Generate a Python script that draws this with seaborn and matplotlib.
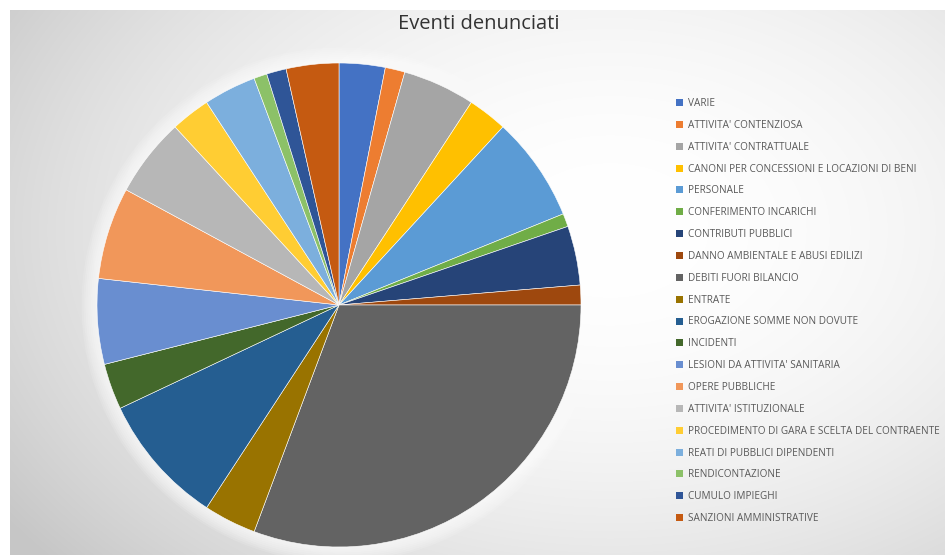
import numpy as np
import matplotlib
matplotlib.use("Agg")
import matplotlib.pyplot as plt
import seaborn as sns
from matplotlib.patches import Patch, Circle

# dati (numero di eventi per categoria)
categorie = [
    "VARIE",
    "ATTIVITA' CONTENZIOSA",
    "ATTIVITA' CONTRATTUALE",
    "CANONI PER CONCESSIONI E LOCAZIONI DI BENI",
    "PERSONALE",
    "CONFERIMENTO INCARICHI",
    "CONTRIBUTI PUBBLICI",
    "DANNO AMBIENTALE E ABUSI EDILIZI",
    "DEBITI FUORI BILANCIO",
    "ENTRATE",
    "EROGAZIONE SOMME NON DOVUTE",
    "INCIDENTI",
    "LESIONI DA ATTIVITA' SANITARIA",
    "OPERE PUBBLICHE",
    "ATTIVITA' ISTITUZIONALE",
    "PROCEDIMENTO DI GARA E SCELTA DEL CONTRAENTE",
    "REATI DI PUBBLICI DIPENDENTI",
    "RENDICONTAZIONE",
    "CUMULO IMPIEGHI",
    "SANZIONI AMMINISTRATIVE",
]
eventi = [7, 3, 11, 6, 16, 2, 9, 3, 70, 8, 20, 7, 13, 14, 12, 6, 8, 2, 3, 8]

colori = [
    "#4472C4", "#ED7D31", "#A5A5A5", "#FFC000", "#5B9BD5", "#70AD47",
    "#264478", "#9E480E", "#636363", "#997300", "#255E91", "#43682B",
    "#698ED0", "#F1975A", "#B7B7B7", "#FFCD33", "#7CAFDD", "#8CC168",
    "#2F5597", "#C55A11",
]

sns.set_theme(style="white")
palette = sns.color_palette(colori)
plt.rcParams['font.family'] = ['Open Sans', 'DejaVu Sans']

W, H = 948, 555
fig = plt.figure(figsize=(W / 100, H / 100), dpi=100)
fig.patch.set_facecolor("white")

# sfondo con gradiente radiale grigio
bg = fig.add_axes([10 / W, 0, 935 / W, 545 / H])
bg.set_axis_off()
yy, xx = np.mgrid[0:545, 0:935]
r = np.sqrt(((xx - 600) / 700.0) ** 2 + ((yy - 220) / 480.0) ** 2)
g = np.clip(1.0 - 0.2 * r ** 2, 0.78, 1.0)
bg.imshow(np.dstack([g, g, g]), aspect="auto", extent=[0, 1, 0, 1])
bg.set_xlim(0, 1)
bg.set_ylim(0, 1)

# torta
cx, cy, rad = 339, 305, 242
ax = fig.add_axes([(cx - rad) / W, (H - cy - rad) / H, 2 * rad / W, 2 * rad / H])
ax.set_axis_off()
for k in range(1, 9):
    ax.add_patch(Circle((0, 0), 1 + 0.008 * k, color="white", alpha=0.13,
                        lw=0, clip_on=False, zorder=0))
ax.pie(eventi, colors=palette, startangle=90, counterclock=False, radius=1,
       wedgeprops=dict(edgecolor="white", linewidth=0.4))
ax.set_xlim(-1, 1)
ax.set_ylim(-1, 1)

fig.text(479 / W, 1 - 24 / H, "Eventi denunciati", ha="center", va="center",
         fontsize=14.5, color="#333333")

handles = [Patch(facecolor=c, edgecolor="none") for c in palette]
fig.legend(handles, categorie, loc="upper left",
           bbox_to_anchor=(676 / W, 1 - 98 / H), frameon=False,
           fontsize=7.2, labelcolor="#595959", handlelength=0.7,
           handleheight=0.7, handletextpad=0.5, labelspacing=1.085,
           borderpad=0, borderaxespad=0)

fig.savefig("out.png", dpi=100)
